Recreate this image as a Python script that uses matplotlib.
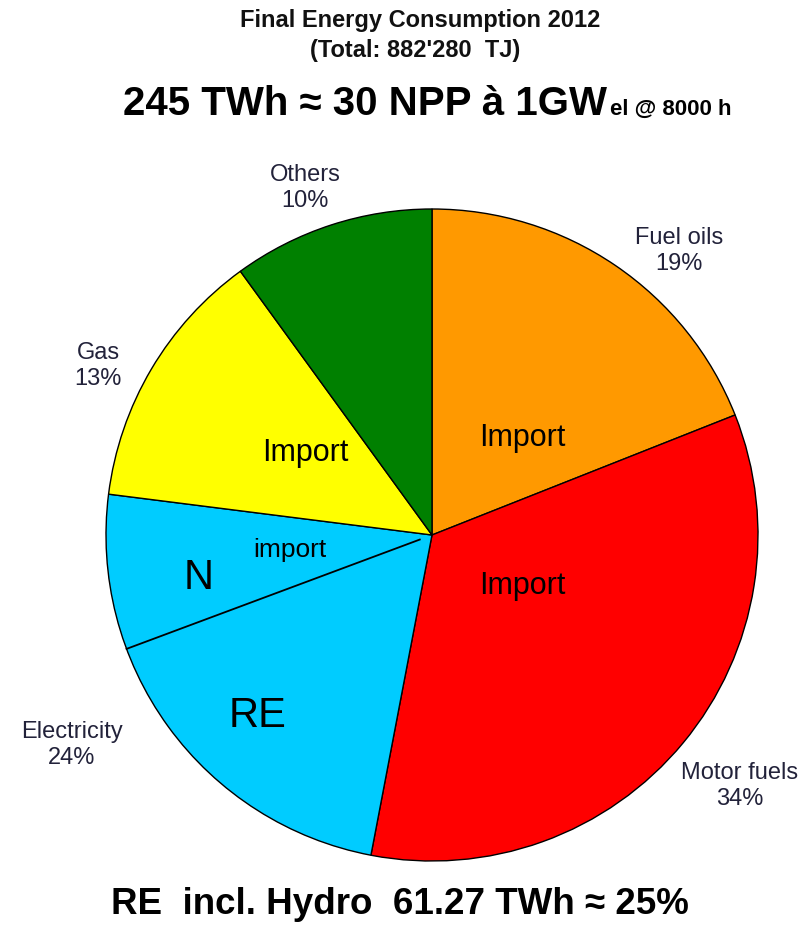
import numpy as np
import matplotlib.pyplot as plt

# Data
categories = ["Fuel oils", "Motor fuels", "Electricity", "Gas", "Others"]
shares = [19, 34, 24, 13, 10]
colors = ["#FF9900", "#FF0000", "#00CCFF", "#FFFF00", "#008000"]
inner_labels = ["Import", "Import", "", "Import", ""]
# part of electricity that is non-renewable (N + import), upper part of the slice
elec_non_re = 0.32

W, H = 812, 925
plt.rcParams['font.family'] = ['Liberation Sans', 'DejaVu Sans']


def py(y):
    # pixel row (from top) -> data y
    return H - y


fig = plt.figure(figsize=(W / 100, H / 100), dpi=100)
ax = fig.add_axes([0, 0, 1, 1])

cx, cy, r = 432, 535, 326
wedges, _ = ax.pie(shares, colors=colors, startangle=90, counterclock=False,
                   center=(cx, py(cy)), radius=r,
                   wedgeprops=dict(edgecolor="black", linewidth=1.0))
ax.set_xlim(0, W)
ax.set_ylim(0, H)
ax.set_aspect("equal")
ax.axis("off")

# split line inside the electricity slice
elec_start = 90 - 360 * sum(shares[:3]) / 100
ang = np.deg2rad(elec_start + 360 * shares[2] / 100 * elec_non_re)
ax.plot([cx + 0.04 * r * np.cos(ang), cx + r * np.cos(ang)],
        [py(cy) + 0.04 * r * np.sin(ang), py(cy) + r * np.sin(ang)],
        color="black", lw=1.3)

# outside labels
lab_pos = {"Fuel oils": (679, 251), "Motor fuels": (740, 786), "Electricity": (72, 745),
           "Gas": (98, 366), "Others": (305, 188)}
for cat, s in zip(categories, shares):
    x, y = lab_pos[cat]
    ax.text(x, py(y), f"{cat}\n{s}%", ha="center", va="center", fontsize=17,
            color="#22223a", linespacing=1.2)

# inner labels
in_pos = {"Fuel oils": (522, 438), "Motor fuels": (522, 586), "Gas": (305, 453)}
for cat, t in zip(categories, inner_labels):
    if t:
        x, y = in_pos[cat]
        ax.text(x, py(y), t, ha="center", va="center", fontsize=22, color="black")
ax.text(290, py(550), "import", ha="center", va="center", fontsize=19)
ax.text(199, py(578), "N", ha="center", va="center", fontsize=30)
ax.text(258, py(716), "RE", ha="center", va="center", fontsize=30)

# titles
ax.text(420, py(21), "Final Energy Consumption 2012", ha="center", va="center",
        fontsize=17, fontweight="bold", color="#111111")
ax.text(415, py(50), "(Total: 882'280  TJ)", ha="center", va="center",
        fontsize=17, fontweight="bold", color="#111111")

main = ax.text(123, py(115), "245 TWh \u2248 30 NPP \u00e0 1GW", ha="left", va="baseline",
               fontsize=29, fontweight="bold")
fig.canvas.draw()
bb = main.get_window_extent()
ax.text(bb.x1 + 3, py(115), "el @ 8000 h", ha="left", va="baseline",
        fontsize=16, fontweight="bold")

ax.text(400, py(905), "RE  incl. Hydro  61.27 TWh \u2248 25%", ha="center", va="center",
        fontsize=26.5, fontweight="bold")

fig.savefig("out.png", dpi=100)
